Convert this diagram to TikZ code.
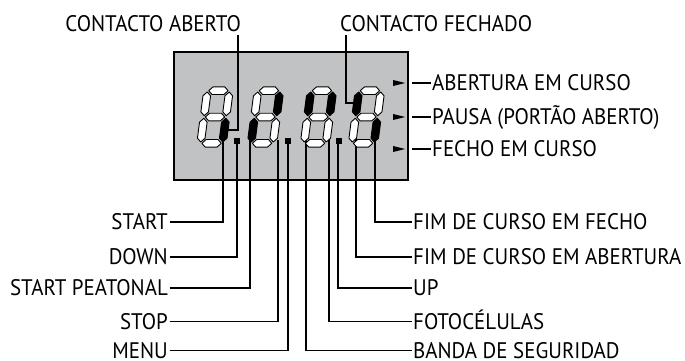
\documentclass[tikz,border=0pt]{standalone}
\usepackage{fontspec}
\setmainfont[FakeStretch=0.93]{PT Sans}
\definecolor{lcdgray}{RGB}{193,194,196}
\def\da{11}
\def\db{26.3}
\def\dh{3.8}
\def\de{1.3}
\newcommand\hseg[2]{\path[#1] (-\da+\de,#2) -- (-\da+\de+\dh,#2-\dh) -- (\da-\de-\dh,#2-\dh) -- (\da-\de,#2) -- (\da-\de-\dh,#2+\dh) -- (-\da+\de+\dh,#2+\dh) -- cycle;}
\newcommand\vseg[4]{\path[#1] (#2,#3+\de) -- (#2+\dh,#3+\de+\dh) -- (#2+\dh,#4-\de-\dh) -- (#2,#4-\de) -- (#2-\dh,#4-\de-\dh) -- (#2-\dh,#3+\de+\dh) -- cycle;}
\newcommand\lcddigit[8]{%
\begin{scope}[shift={(#1,117)}, xslant=0.13]
 \hseg{#2}{-\db}
 \vseg{#3}{\da}{-\db}{0}
 \vseg{#4}{\da}{0}{\db}
 \hseg{#5}{\db}
 \vseg{#6}{-\da}{0}{\db}
 \vseg{#7}{-\da}{-\db}{0}
 \hseg{#8}{0}
\end{scope}}
\begin{document}
\begin{tikzpicture}[x=1pt,y=-1pt,
  lbl/.style={font=\fontsize{22.5}{25}\selectfont, inner ysep=0pt, inner xsep=1.5pt, text height=15.7pt, text depth=0pt},
  conn/.style={line width=1.2pt, black},
  seg/.style={draw=black, line width=0.9pt, fill=white, line join=round},
  son/.style={draw=black, line width=0.9pt, fill=black, line join=round},
  tri/.style={fill=black}]
\useasboundingbox (0,0) rectangle (685,361);
% display
\draw[line width=2.6pt, fill=lcdgray] (174,52) rectangle (408,180);
% labels
\node[lbl, anchor=south east, inner ysep=3pt, inner xsep=0pt] (cab) at (241,35) {CONTACTO ABERTO};
\node[lbl, anchor=south west, inner ysep=3pt, inner xsep=0pt] (cfe) at (340,35) {CONTACTO FECHADO};
\node[lbl, anchor=west] (abc) at (430.5,83) {ABERTURA EM CURSO};
\node[lbl, anchor=west] (pau) at (430.5,117) {PAUSA (PORTÃO ABERTO)};
\node[lbl, anchor=west] (fec) at (430.5,149) {FECHO EM CURSO};
\node[lbl, anchor=east] (start) at (169.5,222) {START};
\node[lbl, anchor=east] (down) at (169.5,257) {DOWN};
\node[lbl, anchor=east] (sped) at (169.5,288) {START PEATONAL};
\node[lbl, anchor=east] (stop) at (169.5,321.5) {STOP};
\node[lbl, anchor=east] (menu) at (169.5,350.5) {MENU};
\node[lbl, anchor=west] (ffe) at (411.5,222) {FIM DE CURSO EM FECHO};
\node[lbl, anchor=west] (fab) at (411.5,257) {FIM DE CURSO EM ABERTURA};
\node[lbl, anchor=west] (up) at (411.5,288) {UP};
\node[lbl, anchor=west] (foto) at (411.5,321.5) {FOTOCÉLULAS};
\node[lbl, anchor=west] (banda) at (411.5,350.5) {BANDA DE SEGURIDAD};
% connector ends
\coordinate (pCA) at (226,130);
\coordinate (pCF) at (357,103);
\coordinate (pStart) at (223,138);
\coordinate (pDown) at (237,141);
\coordinate (pSP) at (250,138);
\coordinate (pStop) at (278,140);
\coordinate (pMenu) at (288,141);
\coordinate (pBanda) at (306,138);
\coordinate (pFoto) at (329,138);
\coordinate (pUp) at (338,141);
\coordinate (pFA) at (356,138);
\coordinate (pFF) at (375,138);
\coordinate (tA) at (412,83);
\coordinate (tP) at (412,117);
\coordinate (tF) at (412,149);
% connectors
\draw[conn] ([xshift=-3pt]cab.south east) |- (pCA);
\draw[conn] ([xshift=6pt]cfe.south west) |- (pCF);
\draw[conn] (start.east) -| (pStart);
\draw[conn] (down.east) -| (pDown);
\draw[conn] (sped.east) -| (pSP);
\draw[conn] (stop.east) -| (pStop);
\draw[conn] (menu.east) -| (pMenu);
\draw[conn] (ffe.west) -| (pFF);
\draw[conn] (fab.west) -| (pFA);
\draw[conn] (up.west) -| (pUp);
\draw[conn] (foto.west) -| (pFoto);
\draw[conn] (banda.west) -| (pBanda);
\draw[conn] (tA) -- (abc.west);
\draw[conn] (tP) -- (pau.west);
\draw[conn] (tF) -- (fec.west);
% arrows
\fill[tri] (393,80) -- (405,83) -- (393,86) -- cycle;
\fill[tri] (393,114) -- (405,117) -- (393,120) -- cycle;
\fill[tri] (393,146) -- (405,149) -- (393,152) -- cycle;
% dots
\fill (234,138) rectangle (240,144);
\fill (285,138) rectangle (291,144);
\fill (336,138) rectangle (342,144);
% digits: a b c d e f g
\lcddigit{215}{seg}{seg}{son}{seg}{seg}{seg}{seg}
\lcddigit{265.5}{seg}{son}{seg}{seg}{son}{seg}{seg}
\lcddigit{318.5}{seg}{son}{seg}{seg}{seg}{son}{seg}
\lcddigit{366.5}{seg}{seg}{son}{seg}{seg}{son}{seg}
\end{tikzpicture}
\end{document}
